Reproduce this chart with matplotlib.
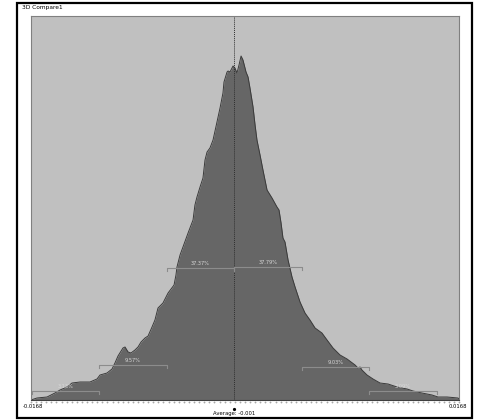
import matplotlib
matplotlib.use("Agg")
import matplotlib.pyplot as plt
import numpy as np
from matplotlib.patches import Rectangle

# distribution outline (return, frequency)
ret = [-0.01680, -0.01633, -0.01554, -0.01492, -0.01452, -0.01397, -0.01358, -0.01295,
       -0.01217, -0.01162, -0.01138, -0.01083, -0.01044, -0.01021, -0.00997, -0.00958,
       -0.00942, -0.00918, -0.00895, -0.00864, -0.00840, -0.00816, -0.00785, -0.00761,
       -0.00730, -0.00707, -0.00683, -0.00644, -0.00604, -0.00557, -0.00542, -0.00534,
       -0.00510, -0.00487, -0.00447, -0.00408, -0.00393, -0.00377, -0.00353, -0.00330,
       -0.00314, -0.00298, -0.00275, -0.00251, -0.00220, -0.00196, -0.00173, -0.00165,
       -0.00141, -0.00133, -0.00118, -0.00102, -0.00094, -0.00079, -0.00063, -0.00047,
       -0.00031, -0.00016, 0.00008, 0.00024, 0.00039, 0.00063, 0.00079, 0.00094,
       0.00118, 0.00141, 0.00157, 0.00173, 0.00212, 0.00251, 0.00267, 0.00283,
       0.00298, 0.00314, 0.00338, 0.00369, 0.00393, 0.00432, 0.00471, 0.00510,
       0.00550, 0.00604, 0.00644, 0.00691, 0.00746, 0.00801, 0.00864, 0.00887,
       0.00903, 0.00918, 0.00958, 0.01005, 0.01060, 0.01123, 0.01193, 0.01272,
       0.01319, 0.01389, 0.01468, 0.01515, 0.01586, 0.01672, 0.01680]
freq = [0, 2, 3, 7, 10, 13, 17, 18,
        18, 21, 25, 27, 31, 37, 44, 52,
        53, 48, 47, 50, 53, 58, 62, 64,
        73, 80, 92, 97, 107, 115, 125, 133,
        145, 153, 167, 180, 195, 203, 213, 222,
        240, 248, 252, 260, 278, 292, 307, 318,
        328, 329, 328, 332, 334, 332, 327, 335,
        344, 340, 328, 323, 312, 293, 275, 260,
        245, 230, 220, 210, 202, 193, 190, 177,
        162, 158, 140, 123, 113, 98, 87, 80,
        72, 67, 60, 52, 45, 41, 35, 32,
        33, 30, 25, 21, 17, 16, 13, 11,
        9, 7, 5, 3, 3, 2, 1]

x_min, x_max = -0.0168, 0.0168
average = -0.00086
sigma = 0.0053
band_labels = ["3.13%", "9.57%", "37.37%", "37.79%", "9.03%", "3.09%"]
band_heights = [9, 35, 132, 133, 33, 9]

fig = plt.figure(figsize=(4.81, 4.20), dpi=100)
W, H = 481, 420

# outer frame
fig.patches.append(Rectangle((17 / W, 1 - 418 / H), 455 / W, 415 / H,
                             transform=fig.transFigure, fill=False,
                             edgecolor="black", linewidth=1.6))
fig.text(22 / W, 1 - 8 / H, "3D Compare1", fontsize=4.2, va="center", ha="left")

ax = fig.add_axes([31 / W, 20 / H, 428 / W, 384 / H])
ax.set_facecolor("#c0c0c0")
ax.fill_between(ret, freq, 0, color="#666666", linewidth=0)
ax.plot(ret, freq, color="#3a3a3a", linewidth=0.7)
ax.set_xlim(x_min, x_max)
ax.set_ylim(0, 384)
ax.set_xticks([])
ax.set_yticks([])
for s in ["top", "right", "left"]:
    ax.spines[s].set_color("#808080")
    ax.spines[s].set_linewidth(0.8)
ax.spines["bottom"].set_color("#404040")
ax.spines["bottom"].set_linewidth(0.8)

# average line
ax.axvline(average, color="#303030", linewidth=0.7, linestyle=(0, (1, 1)))

# sigma brackets
edges = [average + k * sigma for k in (-3, -2, -1, 0, 1, 2, 3)]
for i, (lab, hgt) in enumerate(zip(band_labels, band_heights)):
    a, b = edges[i], edges[i + 1]
    ax.plot([a, a, b, b], [hgt - 3, hgt, hgt, hgt - 3], color="#8c8c8c", linewidth=0.8)
    ax.text((a + b) / 2, hgt + 2, lab, fontsize=3.6, color="#d8d8d8",
            ha="center", va="bottom")

# dotted ticks along the bottom
ticks = np.arange(x_min, x_max + 1e-9, 0.0004)
ax.plot(ticks, np.full_like(ticks, -2.2), linestyle="none", marker="s",
        markersize=0.35, color="#a8a8a8", clip_on=False)
ax.plot([average], [-9], marker="o", markersize=1.3, color="black", clip_on=False)

fig.text(23 / W, 1 - 406 / H, "-0.0168", fontsize=3.8, ha="left", va="center")
fig.text(467 / W, 1 - 406 / H, "0.0168", fontsize=3.8, ha="right", va="center")
fig.text(234 / W, 1 - 413 / H, "Average: -0.001", fontsize=3.8, ha="center", va="center")

fig.savefig("out.png", dpi=100)
